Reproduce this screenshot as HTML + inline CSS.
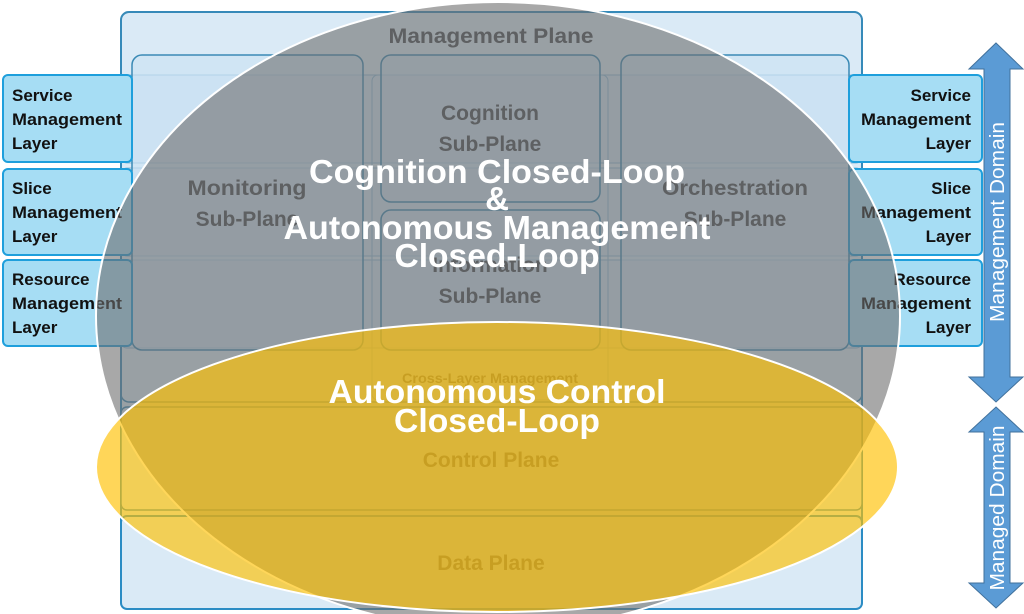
<!DOCTYPE html>
<html><head><meta charset="utf-8"><style>
html,body{margin:0;padding:0;background:#fff;width:1024px;height:614px;overflow:hidden}
svg{display:block}
.lay{font-family:"Liberation Sans",sans-serif;font-weight:bold;font-size:17px;fill:#111}
.sub{font-family:"Liberation Sans",sans-serif;font-weight:bold;font-size:21px;fill:#474b50}
.big{font-family:"Liberation Sans",sans-serif;font-weight:bold;font-size:33px;fill:#fff}
</style></head><body>
<svg width="1024" height="614" viewBox="0 0 1024 614" xmlns="http://www.w3.org/2000/svg">
<rect x="121" y="12" width="741" height="597" rx="8" fill="#daeaf6" stroke="#2b8cc4" stroke-width="2"/>
<rect x="121" y="12" width="741" height="390" rx="8" fill="none" stroke="#3a8ab5" stroke-width="1.5"/>
<rect x="121" y="75" width="741" height="88" rx="6" fill="#cfe3f3" stroke="#8fbcd8" stroke-width="1"/>
<rect x="121" y="168" width="741" height="88" rx="6" fill="#cfe3f3" stroke="#8fbcd8" stroke-width="1"/>
<rect x="121" y="260" width="741" height="88" rx="6" fill="#cfe3f3" stroke="#8fbcd8" stroke-width="1"/>
<rect x="372" y="75" width="236" height="325" rx="6" fill="none" stroke="#8fbcd8" stroke-width="1"/>
<rect x="132" y="55" width="231" height="295" rx="10" fill="#cae1f3" fill-opacity="0.6" stroke="#3a8ab5" stroke-width="1.5"/>
<rect x="381" y="55" width="219" height="147" rx="10" fill="#cae1f3" fill-opacity="0.6" stroke="#3a8ab5" stroke-width="1.5"/>
<rect x="381" y="210" width="219" height="140" rx="10" fill="#cae1f3" fill-opacity="0.6" stroke="#3a8ab5" stroke-width="1.5"/>
<rect x="621" y="55" width="228" height="295" rx="10" fill="#cae1f3" fill-opacity="0.6" stroke="#3a8ab5" stroke-width="1.5"/>
<rect x="121" y="407" width="741" height="103" rx="6" fill="#daeaf6" stroke="#3a8ab5" stroke-width="1.5"/>
<rect x="121" y="516" width="741" height="93" rx="6" fill="#daeaf6" stroke="#2b8cc4" stroke-width="2"/>
<text x="491" y="43" text-anchor="middle" class="sub" textLength="205" lengthAdjust="spacingAndGlyphs">Management Plane</text>
<text x="247" y="195" text-anchor="middle" class="sub" textLength="119" lengthAdjust="spacingAndGlyphs">Monitoring</text>
<text x="247" y="226" text-anchor="middle" class="sub">Sub-Plane</text>
<text x="490" y="120" text-anchor="middle" class="sub">Cognition</text>
<text x="490" y="151" text-anchor="middle" class="sub">Sub-Plane</text>
<text x="490" y="272" text-anchor="middle" class="sub">Information</text>
<text x="490" y="303" text-anchor="middle" class="sub">Sub-Plane</text>
<text x="735" y="195" text-anchor="middle" class="sub" textLength="146" lengthAdjust="spacingAndGlyphs">Orchestration</text>
<text x="735" y="226" text-anchor="middle" class="sub">Sub-Plane</text>
<text x="490" y="383" text-anchor="middle" class="sub" style="font-size:14px" textLength="176" lengthAdjust="spacingAndGlyphs">Cross-Layer Management</text>
<text x="491" y="467" text-anchor="middle" class="sub">Control Plane</text>
<text x="491" y="570" text-anchor="middle" class="sub">Data Plane</text>
<g fill="#a6ddf4" stroke="#1e9fdc" stroke-width="2">
<rect x="3" y="75" width="129" height="87" rx="5"/>
<rect x="3" y="169" width="129" height="86" rx="5"/>
<rect x="3" y="260" width="129" height="86" rx="5"/>
<rect x="849" y="75" width="133" height="87" rx="5"/>
<rect x="849" y="169" width="133" height="86" rx="5"/>
<rect x="849" y="260" width="133" height="86" rx="5"/>
</g>
<g class="lay">
<text x="12" y="101">Service</text><text x="12" y="125" textLength="110" lengthAdjust="spacingAndGlyphs">Management</text><text x="12" y="149">Layer</text>
<text x="12" y="194">Slice</text><text x="12" y="218" textLength="110" lengthAdjust="spacingAndGlyphs">Management</text><text x="12" y="242">Layer</text>
<text x="12" y="285">Resource</text><text x="12" y="309" textLength="110" lengthAdjust="spacingAndGlyphs">Management</text><text x="12" y="333">Layer</text>
</g>
<g class="lay" text-anchor="end">
<text x="971" y="101">Service</text><text x="971" y="125" textLength="110" lengthAdjust="spacingAndGlyphs">Management</text><text x="971" y="149">Layer</text>
<text x="971" y="194">Slice</text><text x="971" y="218" textLength="110" lengthAdjust="spacingAndGlyphs">Management</text><text x="971" y="242">Layer</text>
<text x="971" y="285">Resource</text><text x="971" y="309" textLength="110" lengthAdjust="spacingAndGlyphs">Management</text><text x="971" y="333">Layer</text>
</g>
<polygon points="996,43 1023,69 1010,69 1010,377 1023,377 996,402 969,377 984,377 984,69 969,69" fill="#5b9bd5" stroke="#41719c" stroke-width="1"/>
<polygon points="996,407 1023,432 1010,432 1010,583 1023,583 996,608 969,583 984,583 984,432 969,432" fill="#5b9bd5" stroke="#41719c" stroke-width="1"/>
<text transform="translate(1004,222) rotate(-90)" text-anchor="middle" font-family="Liberation Sans,sans-serif" font-size="20" fill="#fff" textLength="200" lengthAdjust="spacingAndGlyphs">Management Domain</text>
<text transform="translate(1004,508) rotate(-90)" text-anchor="middle" font-family="Liberation Sans,sans-serif" font-size="20" fill="#fff" textLength="165" lengthAdjust="spacingAndGlyphs">Managed Domain</text>
<ellipse cx="498" cy="316" rx="402" ry="314" fill="rgb(110,110,110)" fill-opacity="0.6" stroke="#fff" stroke-width="2"/>
<ellipse cx="497" cy="467" rx="401" ry="145" fill="rgb(255,192,0)" fill-opacity="0.65" stroke="#fff" stroke-width="2"/>
<g class="big" text-anchor="middle">
<text x="497" y="183" textLength="376" lengthAdjust="spacingAndGlyphs">Cognition Closed-Loop</text>
<text x="497" y="210">&amp;</text>
<text x="497" y="239" textLength="427" lengthAdjust="spacingAndGlyphs">Autonomous Management</text>
<text x="497" y="267" textLength="205" lengthAdjust="spacingAndGlyphs">Closed-Loop</text>
<text x="497" y="403" textLength="337" lengthAdjust="spacingAndGlyphs">Autonomous Control</text>
<text x="497" y="432" textLength="206" lengthAdjust="spacingAndGlyphs">Closed-Loop</text>
</g>
</svg>
</body></html>
